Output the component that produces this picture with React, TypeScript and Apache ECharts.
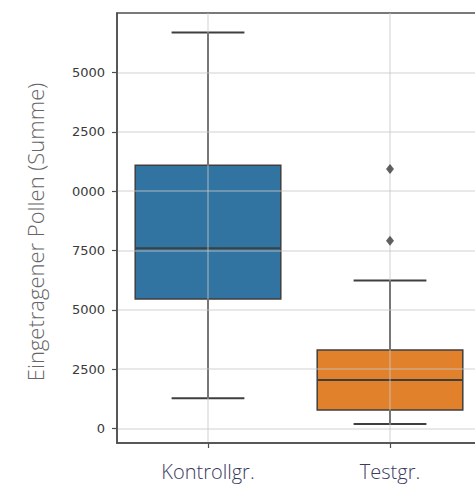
import React, { useEffect, useRef } from "react";
import * as echarts from "echarts";

const categories = ["Kontrollgr.", "Testgr."];
const mins = [1270, 180];
const q1s = [5450, 770];
const medians = [7590, 2040];
const q3s = [11100, 3300];
const maxs = [16700, 6230];
const boxColors = ["#3274a1", "#e1812c"];
const outlierCategory = [1, 1];
const outlierValues = [10940, 7910];
const yTicks = [0, 2500, 5000, 7500, 10000, 12500, 15000];
const yTickLabels = ["0", "2500", "5000", "7500", "0000", "2500", "5000"];

export default function App() {
  const ref = useRef<HTMLDivElement>(null);
  useEffect(() => {
    if (!ref.current) return;
    const chart = echarts.init(ref.current, null, { renderer: "svg" });
    const lineColor = "#3f3f3f";
    const boxData = categories.map((_, i) => [i, mins[i], q1s[i], medians[i], q3s[i], maxs[i]]);
    chart.setOption({
      animation: false,
      backgroundColor: "#ffffff",
      grid: {
        left: 117,
        top: 13,
        width: 364,
        height: 430,
        outerBoundsMode: "none",
        containLabel: false,
        show: true,
        borderColor: "#4d4d4d",
        borderWidth: 1.5,
        backgroundColor: "transparent",
      },
      xAxis: {
        type: "value",
        min: -0.5,
        max: 1.5,
        z: 3,
        axisLine: { show: true, onZero: false, lineStyle: { color: "#4d4d4d", width: 1.5 } },
        axisTick: { show: true, customValues: [0, 1], length: 5, lineStyle: { color: "#4d4d4d", width: 1.2 } },
        axisLabel: {
          customValues: [0, 1],
          formatter: (v: number) => categories[Math.round(v)] ?? "",
          margin: 18,
          fontFamily: "Open Sans",
          fontSize: 20,
          fontWeight: 300,
          color: "#3b3b5e",
        },
        splitLine: { show: true, lineStyle: { color: "rgba(200,200,200,0.55)", width: 1.5 } },
      },
      yAxis: {
        type: "value",
        min: -620,
        max: 17518,
        z: 3,
        axisLine: { show: true, onZero: false, lineStyle: { color: "#4d4d4d", width: 1.5 } },
        axisTick: { show: true, customValues: yTicks, length: 5, lineStyle: { color: "#4d4d4d", width: 1.2 } },
        axisLabel: {
          customValues: yTicks,
          formatter: (v: number) => yTickLabels[yTicks.indexOf(v)] ?? "",
          margin: 12,
          fontFamily: "DejaVu Sans",
          fontSize: 13,
          color: "#3a3a3a",
        },
        splitLine: { show: true, lineStyle: { color: "rgba(200,200,200,0.55)", width: 1.5 } },
      },
      graphic: [
        {
          type: "text",
          x: 35,
          y: 232,
          rotation: Math.PI / 2,
          style: {
            text: "Eingetragener Pollen (Summe)",
            fontFamily: "Open Sans",
            fontSize: 22,
            fontWeight: 300,
            fill: "#666666",
            textAlign: "center",
            textVerticalAlign: "middle",
          },
        },
      ],
      series: [
        {
          type: "custom",
          z: 2,
          data: boxData,
          encode: { x: 0, y: [1, 2, 3, 4, 5] },
          renderItem: (params: any, api: any) => {
            const i = api.value(0);
            const x = api.coord([i, 0])[0];
            const w = api.size([0.8, 0])[0];
            const cw = api.size([0.4, 0])[0];
            const yMin = api.coord([i, api.value(1)])[1];
            const yQ1 = api.coord([i, api.value(2)])[1];
            const yMed = api.coord([i, api.value(3)])[1];
            const yQ3 = api.coord([i, api.value(4)])[1];
            const yMax = api.coord([i, api.value(5)])[1];
            const ls = { stroke: lineColor, lineWidth: 2 };
            return {
              type: "group",
              children: [
                { type: "line", shape: { x1: x, y1: yQ1, x2: x, y2: yMin }, style: ls },
                { type: "line", shape: { x1: x, y1: yQ3, x2: x, y2: yMax }, style: ls },
                { type: "line", shape: { x1: x - cw / 2, y1: yMin, x2: x + cw / 2, y2: yMin }, style: ls },
                { type: "line", shape: { x1: x - cw / 2, y1: yMax, x2: x + cw / 2, y2: yMax }, style: ls },
                {
                  type: "rect",
                  shape: { x: x - w / 2, y: yQ3, width: w, height: yQ1 - yQ3 },
                  style: { fill: boxColors[i], stroke: lineColor, lineWidth: 1.5 },
                },
                { type: "line", shape: { x1: x - w / 2, y1: yMed, x2: x + w / 2, y2: yMed }, style: ls },
              ],
            };
          },
        },
        {
          type: "scatter",
          z: 4,
          symbol: "diamond",
          symbolSize: [8, 10],
          itemStyle: { color: "#3a3a3a" },
          data: outlierValues.map((v, k) => [outlierCategory[k], v]),
        },
      ],
    });
    return () => chart.dispose();
  }, []);
  return <div ref={ref} style={{ position: "fixed", left: 0, top: 0, width: 475, height: 489 }} />;
}
